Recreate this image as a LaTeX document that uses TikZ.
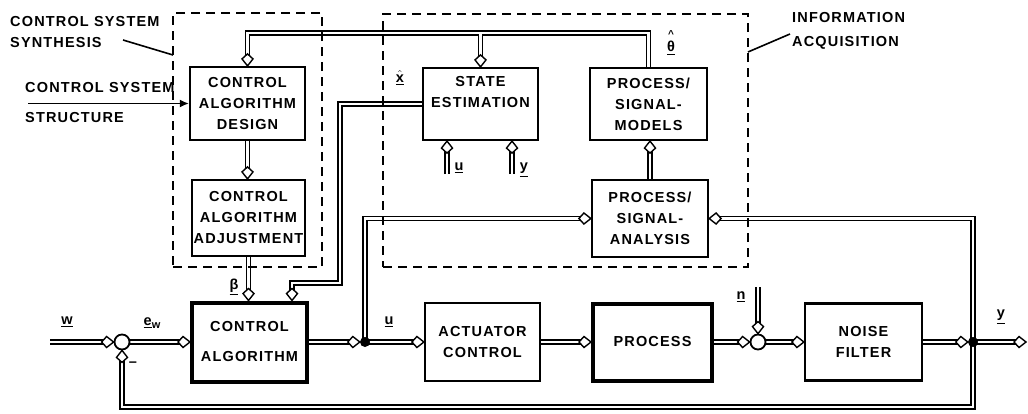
\documentclass[tikz,border=0pt]{standalone}
\usepackage{fontspec}
\usepackage{amsmath}
\newfontfamily\labfont{Liberation Sans}[LetterSpace=8]
\usetikzlibrary{arrows.meta}
\pgfdeclarelayer{bg}
\pgfsetlayers{bg,main}
\newcommand\wires[1]{%
 \draw[#1,a] (models.north) -- (models.north |- bus) -| (design.north);
 \draw[#1,a] (state.north |- bus) -- (state.north);
 \draw[#1,a] (design.south) -- (design.south |- adjust.north);
 \draw[#1,a] (adjust.south) -- (adjust.south |- ctrl.north);
 \draw[#1,a] (state.west) -| (xh) -| ([xshift=42.5pt]ctrl.north);
 \draw[#1,a] (uin) -- (uin |- state.south);
 \draw[#1,a] (yin) -- (yin |- state.south);
 \draw[#1,a] (analysis.north) -- (analysis.north |- models.south);
 \draw[#1,a] (j1.center) |- (analysis.west);
 \draw[#1,a] (j2.center) |- (analysis.east);
 \draw[#1,a] (win) -- (sum1.west);
 \draw[#1,a] (sum1.east) -- (ctrl.west);
 \draw[#1,a] (ctrl.east) -- (j1.west);
 \draw[#1,a] (j1.center) -- (actuator.west);
 \draw[#1,a] (actuator.east) -- (process.west);
 \draw[#1,a] (process.east) -- (sum2.west);
 \draw[#1,a] (nin) -- (sum2.north);
 \draw[#1,a] (sum2.east) -- (filter.west);
 \draw[#1,a] (filter.east) -- (j2.west);
 \draw[#1,a] (j2.center) -- (yout);
 \draw[#1,a] (j2.center) -- (j2 |- fb) -| (sum1.south);
}
\begin{document}
\begin{tikzpicture}[x=1pt,y=-1pt,
  lab/.style={font=\labfont\bfseries\fontsize{14.5}{21}\selectfont, inner sep=0pt, align=center},
  sym/.style={font=\labfont\bfseries\fontsize{14.5}{16}\selectfont, inner sep=0pt},
  blk/.style={lab, draw, line width=2.2pt},
  thickblk/.style={lab, draw, line width=4pt},
  dashbox/.style={draw, line width=2pt, dash pattern=on 9pt off 6pt, inner sep=0pt},
  sumc/.style={circle, draw, line width=1.8pt, fill=white, minimum size=15pt, inner sep=0pt},
  dotc/.style={circle, fill=black, minimum size=10pt, inner sep=0pt},
  a/.style={shorten >=9pt},
  wo/.style={line width=5.6pt, black},
  wi/.style={line width=2.4pt, white},
  leader/.style={line width=1.6pt},
  head/.style={draw=black, fill=white, line width=1.4pt, line join=miter},
  ahR/.pic={\draw[head] (0,0) -- (-7,-5.5) -- (-12,0) -- (-7,5.5) -- cycle;},
  ahL/.pic={\draw[head] (0,0) -- (7,-5.5) -- (12,0) -- (7,5.5) -- cycle;},
  ahD/.pic={\draw[head] (0,0) -- (-5.5,-7) -- (0,-12) -- (5.5,-7) -- cycle;},
  ahU/.pic={\draw[head] (0,0) -- (-5.5,7) -- (0,12) -- (5.5,7) -- cycle;}
]
\useasboundingbox (0,0) rectangle (1028,413);

% dashed grouping boxes
\node[dashbox, minimum width=149pt, minimum height=254pt] (synth) at (247.5,140) {};
\node[dashbox, minimum width=365pt, minimum height=253pt] (info) at (565.5,140.5) {};

% blocks
\node[blk, minimum width=115pt, minimum height=73pt] (design) at (247.5,103.5) {CONTROL\\ALGORITHM\\DESIGN};
\node[blk, minimum width=113pt, minimum height=76pt] (adjust) at (248.5,218) {CONTROL\\ALGORITHM\\ADJUSTMENT};
\node[thickblk, minimum width=115pt, minimum height=79pt] (ctrl) at (249.5,342) {CONTROL\\[9pt]ALGORITHM};
\node[blk, minimum width=115pt, minimum height=72pt] (state) at (480.5,104) {STATE\\ESTIMATION\\[4pt]};
\node[blk, minimum width=117pt, minimum height=72pt] (models) at (648.5,104) {PROCESS/\\SIGNAL-\\MODELS};
\node[blk, minimum width=116pt, minimum height=77pt] (analysis) at (650,218.5) {PROCESS/\\SIGNAL-\\ANALYSIS};
\node[blk, minimum width=115pt, minimum height=78pt] (actuator) at (482.5,342) {ACTUATOR\\CONTROL};
\node[thickblk, minimum width=119pt, minimum height=77pt] (process) at (652.5,342) {PROCESS};
\node[blk, minimum width=117pt, minimum height=77pt] (filter) at (863.5,342) {NOISE\\FILTER};

% summing points and junctions
\node[sumc] (sum1) at (122,342) {};
\node[sumc] (sum2) at (758,342) {};
\node[dotc] (j1) at (365,342) {};
\node[dotc] (j2) at (973,342) {};

% free ends and bends
\coordinate (bus) at (0,33);
\coordinate (xh) at (340,283);
\coordinate (uin) at (447,174);
\coordinate (yin) at (512,174);
\coordinate (win) at (50,342);
\coordinate (nin) at (758,287);
\coordinate (yout) at (1026,342);
\coordinate (fb) at (0,407);
\coordinate (csin) at (28,103.5);
\coordinate (ld1) at (123,40);
\coordinate (ld2) at (173,55);
\coordinate (ld3) at (790,34);
\coordinate (ld4) at (748,52);

% double-line signal connectors
\begin{pgfonlayer}{bg}
 \wires{wo}
 \wires{wi}
\end{pgfonlayer}

% arrow heads
\pic at (design.north) {ahD};
\pic at (state.north) {ahD};
\pic at (design.south |- adjust.north) {ahD};
\pic at (adjust.south |- ctrl.north) {ahD};
\pic at ([xshift=42.5pt]ctrl.north) {ahD};
\pic at (uin |- state.south) {ahU};
\pic at (yin |- state.south) {ahU};
\pic at (analysis.north |- models.south) {ahU};
\pic at (analysis.west) {ahR};
\pic at (analysis.east) {ahL};
\pic at (sum1.west) {ahR};
\pic at (ctrl.west) {ahR};
\pic at (j1.west) {ahR};
\pic at (actuator.west) {ahR};
\pic at (process.west) {ahR};
\pic at (sum2.west) {ahR};
\pic at (sum2.north) {ahD};
\pic at (filter.west) {ahR};
\pic at (j2.west) {ahR};
\pic at (yout) {ahR};
\pic at (sum1.south) {ahU};

% outer texts
\node[lab, anchor=west] (t1) at (10,22) {CONTROL SYSTEM};
\node[lab, anchor=west] (t2) at (10,43) {SYNTHESIS};
\node[lab, anchor=west] (t3) at (25,88) {CONTROL SYSTEM};
\node[lab, anchor=west] (t4) at (25,118) {STRUCTURE};
\node[lab, anchor=west] (t5) at (792,18) {INFORMATION};
\node[lab, anchor=west] (t6) at (792,43) {ACQUISITION};
\draw[leader] (ld1) -- (ld2);
\draw[leader] (ld3) -- (ld4);
\draw[line width=1.6pt, -{Latex[length=9pt,width=8pt]}] (csin) -- (design.west);

% signal labels
\node[sym] (lw) at (67,322) {\underline{w}};
\node[sym] (lew) at (152,323) {\underline{e}\raisebox{-3pt}{\fontsize{11}{12}\selectfont w}};
\node[sym] (lminus) at (133,364) {–};
\node[sym] (lbeta) at (234,287) {\underline{β}};
\node[sym] (lxh) at (400,78) {$\hat{\underline{\text{x}}}$};
\node[sym] (lu1) at (459,168) {\underline{u}};
\node[sym] (ly1) at (524,170) {\underline{y}};
\node[sym, align=center] (lth) at (671,43) {{\fontsize{10}{10}\selectfont\textasciicircum}\\[-2pt]\underline{θ}};
\node[sym] (lu2) at (389,322) {\underline{u}};
\node[sym] (ln) at (741,297) {\underline{n}};
\node[sym] (ly2) at (1001,317) {\underline{y}};
\end{tikzpicture}
\end{document}
